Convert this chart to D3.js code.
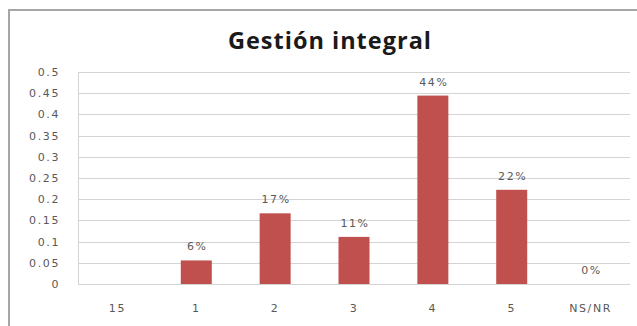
<!DOCTYPE html>
<html>
<head>
<meta charset="utf-8">
<script src="https://cdn.jsdelivr.net/npm/d3@7"></script>
<style>
  html, body { margin: 0; padding: 0; background: #fff; }
  svg { display: block; }
</style>
</head>
<body>
<svg id="chart" width="637" height="326"></svg>
<script>
const title = "Gestión integral";
const categories = ["15", "1", "2", "3", "4", "5", "NS/NR"];
const values = [null, 0.0556, 0.1667, 0.1111, 0.4444, 0.2222, 0];
const valueLabels = [null, "6%", "17%", "11%", "44%", "22%", "0%"];
const yTicks = [0, 0.05, 0.1, 0.15, 0.2, 0.25, 0.3, 0.35, 0.4, 0.45, 0.5];
const yTickLabels = ["0", "0.05", "0.1", "0.15", "0.2", "0.25", "0.3", "0.35", "0.4", "0.45", "0.5"];

const data = categories.map((c, i) => ({ cat: c, value: values[i], label: valueLabels[i] }));

const svg = d3.select("#chart");
const plot = { left: 78, right: 630, top: 72, bottom: 284 };

// outer chart border (right/bottom edges fall outside the view)
svg.append("rect")
  .attr("x", 9).attr("y", 10)
  .attr("width", 640).attr("height", 330)
  .attr("fill", "#fff")
  .attr("stroke", "#a6a6a6").attr("stroke-width", 2);

svg.append("text")
  .attr("x", 330).attr("y", 49)
  .attr("text-anchor", "middle")
  .attr("font-family", "'Open Sans', sans-serif")
  .attr("font-weight", "bold")
  .attr("font-size", 23.5)
  .attr("letter-spacing", "1px")
  .attr("fill", "#1a1a1a")
  .text(title);

const xOuter = d3.scaleBand().domain(categories).range([plot.left, plot.right]);
const y = d3.scaleLinear().domain([0, 0.5]).range([plot.bottom, plot.top]);

// gridlines
svg.append("g").selectAll("line").data(yTicks).join("line")
  .attr("x1", plot.left).attr("x2", plot.right)
  .attr("y1", d => Math.round(y(d)) + 0.5).attr("y2", d => Math.round(y(d)) + 0.5)
  .attr("stroke", "#d4d4d4").attr("stroke-width", 1);

// y axis line
svg.append("line")
  .attr("x1", plot.left + 0.5).attr("x2", plot.left + 0.5)
  .attr("y1", plot.top).attr("y2", plot.bottom + 0.5)
  .attr("stroke", "#d4d4d4");

// y axis labels
const yAxis = d3.axisLeft(y).tickValues(yTicks).tickSize(0).tickPadding(18)
  .tickFormat((d, i) => yTickLabels[i]);
const gy = svg.append("g").attr("transform", `translate(${plot.left},0)`).call(yAxis);
gy.select(".domain").remove();
gy.selectAll("text")
  .attr("font-family", "'DejaVu Sans', sans-serif")
  .attr("font-size", 11)
  .attr("letter-spacing", "1.6px")
  .attr("fill", "#595959");

// x axis labels
const xAxis = d3.axisBottom(xOuter).tickSize(0).tickPadding(20);
const gx = svg.append("g").attr("transform", `translate(0,${plot.bottom})`).call(xAxis);
gx.select(".domain").remove();
gx.selectAll("text")
  .attr("font-family", "'DejaVu Sans', sans-serif")
  .attr("font-size", 11)
  .attr("letter-spacing", "1.6px")
  .attr("fill", "#595959");

// bars
const bw = 31;
svg.append("g").selectAll("rect").data(data.filter(d => d.value !== null && d.value > 0)).join("rect")
  .attr("x", d => xOuter(d.cat) + xOuter.bandwidth() / 2 - bw / 2)
  .attr("width", bw)
  .attr("y", d => y(d.value))
  .attr("height", d => y(0) - y(d.value))
  .attr("fill", "#C0504D");

// value labels
svg.append("g").selectAll("text").data(data.filter(d => d.value !== null)).join("text")
  .attr("x", d => xOuter(d.cat) + xOuter.bandwidth() / 2 + 1)
  .attr("y", d => y(d.value) - 10)
  .attr("text-anchor", "middle")
  .attr("font-family", "'DejaVu Sans', sans-serif")
  .attr("font-size", 11)
  .attr("letter-spacing", "1.6px")
  .attr("fill", "#595959")
  .text(d => d.label);
</script>
</body>
</html>
